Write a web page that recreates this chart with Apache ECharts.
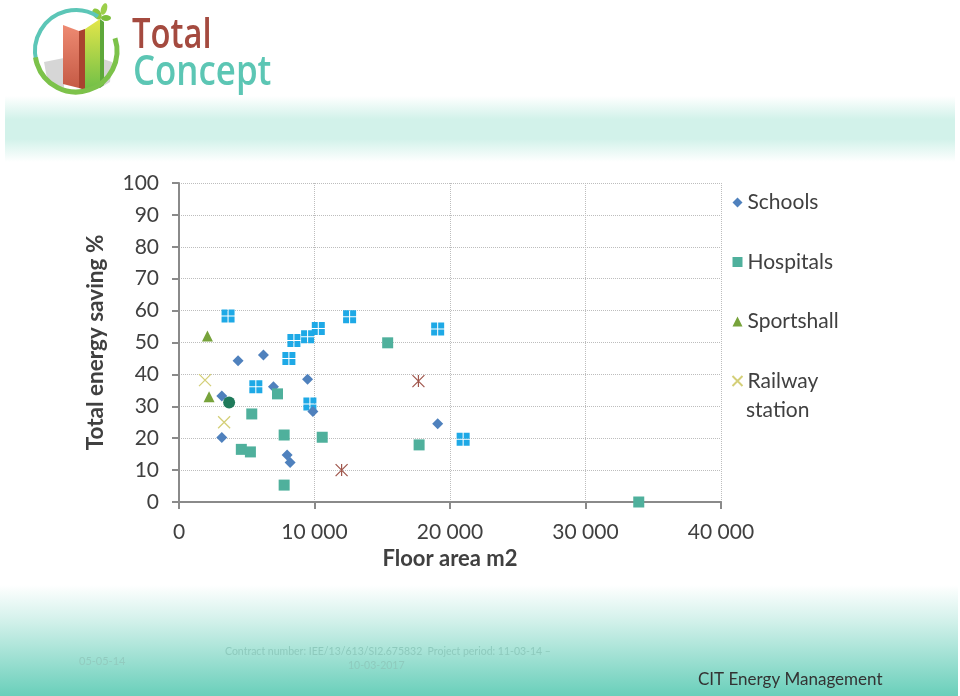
<!DOCTYPE html>
<html>
<head>
<meta charset="utf-8">
<script src="https://cdn.jsdelivr.net/npm/echarts@6/dist/echarts.min.js"></script>
<style>
html,body{margin:0;padding:0;background:#fff;}
#chart{width:960px;height:696px;}
</style>
</head>
<body>
<div id="chart"></div>
<script>
// ---- data ----
var schoolsX   = [4360, 6230, 9490, 6970, 3160, 9880, 3160, 7980, 8200, 19090];
var schoolsY   = [44.3, 46.1, 38.5, 36.1, 33.2, 28.4, 20.2, 14.7, 12.4, 24.5];
var hospitalsX = [7270, 5370, 7760, 10570, 4600, 5270, 7760, 15400, 17720, 33930];
var hospitalsY = [33.9, 27.6, 21.0, 20.3, 16.5, 15.7, 5.3, 49.9, 17.9, 0];
var sportsX    = [2100, 2220];
var sportsY    = [52.0, 33.0];
var railX      = [1920, 3330];
var railY      = [38.2, 25.0];
var officesX   = [3620, 12590, 10280, 9490, 8480, 8110, 5670, 9660, 19090, 20970];
var officesY   = [58.3, 58.1, 54.4, 51.8, 50.6, 45.0, 36.1, 30.7, 54.2, 19.7];
var circleX    = [3700];
var circleY    = [31.2];
var asteriskX  = [12000, 17670];
var asteriskY  = [10.0, 37.9];

var legendNames = ['Schools', 'Hospitals', 'Sportshall', 'Railway station'];
var yTicks = {min: 0, max: 100, interval: 10};
var xTicks = {min: 0, max: 40000, interval: 10000};

function pairs(xs, ys) { return xs.map(function (x, i) { return [x, ys[i]]; }); }

var FONT = 'Lato';
var chart = echarts.init(document.getElementById('chart'), null, {renderer: 'canvas'});

var logo = [
  // gray building
  {type: 'polygon', shape: {points: [[44,62],[64,58],[64,88],[48,84]]}, style: {fill: '#d6d6d6'}},
  {type: 'polygon', shape: {points: [[100,58],[112,62],[110,82],[100,88]]}, style: {fill: '#d6d6d6'}},
  // red bar
  {type: 'polygon', shape: {points: [[63,25],[79,31],[79,88],[63,84]]},
   style: {fill: new echarts.graphic.LinearGradient(0,0,0,1,[{offset:0,color:'#ee8a72'},{offset:1,color:'#c55a45'}])}},
  {type: 'polygon', shape: {points: [[79,31],[85,29],[85,90],[79,88]]}, style: {fill: '#a9432f'}},
  // green/yellow bar
  {type: 'polygon', shape: {points: [[85,29],[100,19],[100,88],[85,90]]},
   style: {fill: new echarts.graphic.LinearGradient(0,0,0,1,[{offset:0,color:'#e4e64a'},{offset:1,color:'#6fbf47'}])}},
  {type: 'polygon', shape: {points: [[100,19],[104,22],[104,85],[100,88]]}, style: {fill: '#5ea83a'}},
  // leaves
  {type: 'ellipse', shape: {cx: 97, cy: 14, rx: 4, ry: 6}, rotation: 0.6, originX: 97, originY: 14, style: {fill: '#8cc63f'}},
  {type: 'ellipse', shape: {cx: 104, cy: 9, rx: 3, ry: 6}, rotation: -0.3, originX: 104, originY: 9, style: {fill: '#9ccf4a'}},
  {type: 'ellipse', shape: {cx: 106, cy: 18, rx: 5, ry: 3}, style: {fill: '#7dbf3c'}},
  // rings
  {type: 'arc', shape: {cx: 76, cy: 51, r: 41, startAngle: Math.PI * 0.92, endAngle: Math.PI * 1.68, clockwise: true},
   style: {stroke: '#5cc6b7', lineWidth: 4, fill: 'none'}},
  {type: 'arc', shape: {cx: 76, cy: 51, r: 41, startAngle: -Math.PI * 0.1, endAngle: Math.PI * 0.95, clockwise: true},
   style: {stroke: '#7cc24a', lineWidth: 5, fill: 'none'}},
  // text
  {type: 'text', x: 132, y: 57, scaleX: 0.78, style: {text: 'Total', fill: '#a44a3f', font: '600 42px "Open Sans"', textVerticalAlign: 'bottom'}},
  {type: 'text', x: 133, y: 94, scaleX: 0.83, style: {text: 'Concept', fill: '#5cc6b4', font: '600 42px "Open Sans"', textVerticalAlign: 'bottom'}}
];

var option = {
  backgroundColor: '#ffffff',
  animation: false,
  graphic: [
    {type: 'rect', z: -10, shape: {x: 5, y: 96, width: 950, height: 66},
     style: {fill: new echarts.graphic.LinearGradient(0,0,0,1,[
       {offset:0,color:'#ffffff'},{offset:0.35,color:'#d2f2ea'},{offset:0.65,color:'#d2f2ea'},{offset:1,color:'#ffffff'}])}},
    {type: 'rect', z: -10, shape: {x: 0, y: 585, width: 958, height: 111},
     style: {fill: new echarts.graphic.LinearGradient(0,0,0,1,[
       {offset:0,color:'#ffffff'},{offset:0.3,color:'#d6f2ec'},{offset:1,color:'#69cfba'}])}},
    {type: 'group', children: logo},
    {type: 'text', left: 79, top: 656, style: {text: '05-05-14', fill: '#92cbbf', font: '11px ' + FONT}},
    {type: 'text', left: 225, top: 646, style: {text: 'Contract number: IEE/13/613/SI2.675832  Project period: 11-03-14 \u2013', fill: '#8ecabd', font: '10.5px ' + FONT}},
    {type: 'text', left: 348, top: 660, style: {text: '10-03-2017', fill: '#8ecabd', font: '10.5px ' + FONT}},
    {type: 'text', left: 698, top: 671, style: {text: 'CIT Energy Management', fill: '#333333', font: '17px ' + FONT}},
    {type: 'text', left: 746, top: 400, style: {text: 'station', fill: '#404040', font: '21px ' + FONT}}
  ],
  grid: {left: 179, top: 183, right: 239, bottom: 194, containLabel: false},
  legend: {
    data: legendNames,
    orient: 'vertical',
    left: 725, top: 187,
    itemWidth: 10, itemHeight: 10, itemGap: 38.5,
    textStyle: {fontFamily: FONT, fontSize: 21, color: '#404040'},
    formatter: function (n) { return n === 'Railway station' ? 'Railway' : n; }
  },
  xAxis: {
    type: 'value', min: xTicks.min, max: xTicks.max, interval: xTicks.interval,
    name: 'Floor area m2', nameLocation: 'middle', nameGap: 46,
    nameTextStyle: {fontFamily: FONT, fontSize: 22, fontWeight: 'bold', color: '#404040'},
    axisLine: {show: true, lineStyle: {color: '#8a8a8a', width: 2}},
    axisTick: {show: true, length: 7, lineStyle: {color: '#8a8a8a', width: 2}},
    axisLabel: {fontFamily: FONT, fontSize: 21, color: '#404040', margin: 20,
      formatter: function (v) { return v === 0 ? '0' : (v / 1000) + ' 000'; }},
    splitLine: {show: true, lineStyle: {color: '#bdbdbd', type: 'dotted', width: 1}}
  },
  yAxis: {
    type: 'value', min: yTicks.min, max: yTicks.max, interval: yTicks.interval,
    name: 'Total energy saving %', nameLocation: 'middle', nameGap: 72,
    nameTextStyle: {fontFamily: FONT, fontSize: 22.5, fontWeight: 'bold', color: '#404040'},
    axisLine: {show: true, lineStyle: {color: '#8a8a8a', width: 2}},
    axisTick: {show: true, length: 7, lineStyle: {color: '#8a8a8a', width: 2}},
    axisLabel: {fontFamily: FONT, fontSize: 21, color: '#404040', margin: 20},
    splitLine: {show: true, lineStyle: {color: '#bdbdbd', type: 'dotted', width: 1}}
  },
  series: [
    {name: 'Offices', type: 'scatter', data: pairs(officesX, officesY),
     symbol: 'path://M0,0h4.6v4.6h-4.6z M5.4,0h4.6v4.6h-4.6z M0,5.4h4.6v4.6h-4.6z M5.4,5.4h4.6v4.6h-4.6z',
     symbolSize: 13, itemStyle: {color: '#1ea9e6', opacity: 1}},
    {name: 'Schools', type: 'scatter', data: pairs(schoolsX, schoolsY), symbol: 'diamond', symbolSize: 11,
     itemStyle: {color: '#4f81bd', opacity: 1}},
    {name: 'Hospitals', type: 'scatter', data: pairs(hospitalsX, hospitalsY), symbol: 'rect', symbolSize: 11,
     itemStyle: {color: '#4fb09c', opacity: 1}},
    {name: 'Sportshall', type: 'scatter', data: pairs(sportsX, sportsY), symbol: 'triangle', symbolSize: 11,
     itemStyle: {color: '#77a33b', opacity: 1}},
    {name: 'Railway station', type: 'scatter', data: pairs(railX, railY),
     symbol: 'path://M0,0L10,10M10,0L0,10', symbolSize: 12,
     itemStyle: {color: 'none', borderColor: '#d4cf78', borderWidth: 1.3, opacity: 1}},
    {name: 'Other', type: 'scatter', data: pairs(circleX, circleY), symbol: 'circle', symbolSize: 12,
     itemStyle: {color: '#1f7a5b', opacity: 1}},
    {name: 'Mixed', type: 'scatter', data: pairs(asteriskX, asteriskY),
     symbol: 'path://M0,0L10,10M10,0L0,10M5,0L5,10', symbolSize: 12,
     itemStyle: {color: 'none', borderColor: '#a0564c', borderWidth: 1.2, opacity: 1}}
  ]
};
chart.setOption(option);
</script>
</body>
</html>
